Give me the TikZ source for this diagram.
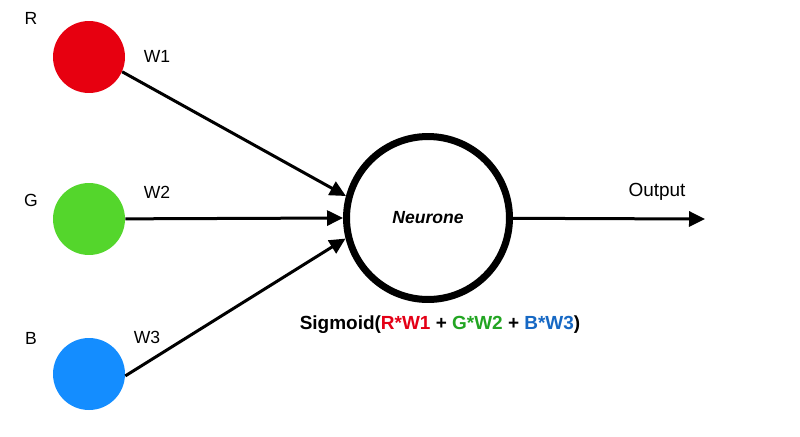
\documentclass[tikz,border=0pt]{standalone}
\usepackage{fontspec}
\setmainfont{Liberation Sans}
\usepackage{xcolor}
\usetikzlibrary{arrows.meta,positioning,calc}

\definecolor{inred}{RGB}{231,0,16}
\definecolor{ingreen}{RGB}{84,214,44}
\definecolor{inblue}{RGB}{20,141,255}
\definecolor{txtred}{RGB}{228,0,22}
\definecolor{txtgreen}{RGB}{34,165,34}
\definecolor{txtblue}{RGB}{22,104,196}

\begin{document}
\begin{tikzpicture}[
    x=0.02cm, y=-0.02cm,
    input_node/.style={circle, minimum size=1.44cm, inner sep=0pt},
    neuron_node/.style={circle, draw=black, line width=0.14cm, minimum size=3.26cm, inner sep=0pt,
        font=\fontsize{10}{12}\selectfont\bfseries\itshape},
    label_text/.style={font=\fontsize{10}{12}\selectfont},
    weight_edge/.style={-{Triangle[length=0.32cm,width=0.3cm]}, line width=0.06cm}
]
    \useasboundingbox (0,0) rectangle (800,436);

    % --- Nodes ---
    % Inputs
    \node[input_node, fill=inred] (r) at (89,57) {};
    \node[input_node, fill=ingreen] (g) at (89,219) {};
    \node[input_node, fill=inblue] (b) at (89,374) {};

    % Neuron
    \node[neuron_node] (neur) at (428,218) {Neurone};
    \coordinate (out) at (705,219);

    % --- Labels ---
    \node[label_text] (lr) at (31,18) {R};
    \node[label_text] (lg) at (31,200) {G};
    \node[label_text] (lb) at (31,338) {B};
    \node[label_text] (w1) at (157,56) {W1};
    \node[label_text] (w2) at (157,192) {W2};
    \node[label_text] (w3) at (147,337) {W3};
    \node[font=\fontsize{10.8}{12}\selectfont] (lout) at (657,192) {Output};
    \node[font=\fontsize{10.8}{13}\selectfont\bfseries] (formula) at (440,325)
        {Sigmoid(\textcolor{txtred}{R*W1} + \textcolor{txtgreen}{G*W2} + \textcolor{txtblue}{B*W3})};

    % --- Edges ---
    \draw[weight_edge] (r.-24) -- (neur.165);
    \draw[weight_edge] (g) -- (neur.west);
    \draw[weight_edge] (b.-3) -- (neur.194);
    \draw[weight_edge] (neur) -- (out);

\end{tikzpicture}
\end{document}
